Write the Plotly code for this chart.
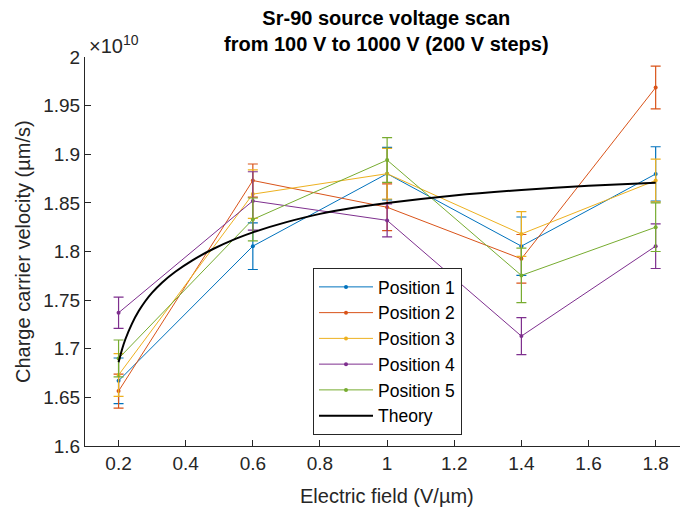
import plotly.graph_objects as go

# Data (velocity in units of 1e10 µm/s)
field = [0.2, 0.6, 1.0, 1.4, 1.8]
names = ["Position 1", "Position 2", "Position 3", "Position 4", "Position 5"]
pos1 = [1.667, 1.8055, 1.880, 1.8055, 1.8797]
pos2 = [1.6565, 1.873, 1.8455, 1.7925, 1.9686]
pos3 = [1.673, 1.859, 1.880, 1.818, 1.873]
pos4 = [1.737, 1.852, 1.832, 1.713, 1.8055]
pos5 = [1.690, 1.833, 1.894, 1.7754, 1.825]
err1 = [0.0235, 0.024, 0.027, 0.030, 0.028]
err2 = [0.0175, 0.017, 0.024, 0.025, 0.022]
err3 = [0.022, 0.025, 0.026, 0.023, 0.022]
err4 = [0.016, 0.030, 0.017, 0.019, 0.023]
err5 = [0.019, 0.022, 0.023, 0.028, 0.025]

theory_x = [0.2, 0.21, 0.22, 0.24, 0.26, 0.28, 0.30, 0.33, 0.37, 0.42, 0.48, 0.55, 0.6,
            0.7, 0.8, 0.9, 1.0, 1.2, 1.4, 1.6, 1.8]
theory_y = [1.686, 1.699, 1.7095, 1.7259, 1.7387, 1.7491, 1.7577, 1.7682, 1.7794, 1.7909,
            1.8023, 1.8132, 1.8197, 1.8302, 1.8387, 1.8449, 1.8499, 1.8577, 1.8633, 1.8675, 1.8706]

colors = ["#0072BD", "#D95319", "#EDB120", "#7E2F8E", "#77AC30"]
series = [pos1, pos2, pos3, pos4, pos5]
errors = [err1, err2, err3, err4, err5]

FONT = "Liberation Sans"
TXT = "#262626"

fig = go.Figure()
for name, ys, es, c in zip(names, series, errors, colors):
    fig.add_trace(go.Scatter(
        x=field, y=ys, name=name, mode="lines+markers",
        line=dict(color=c, width=1),
        marker=dict(color=c, size=4),
        error_y=dict(type="data", array=es, visible=True, color=c, thickness=1.2, width=5),
        cliponaxis=False,
    ))
fig.add_trace(go.Scatter(
    x=theory_x, y=theory_y, name="Theory", mode="lines",
    line=dict(color="black", width=2, shape="spline", smoothing=0.8),
))

L, R, T, B = 85, 0, 57, 64
W, H = 680, 510
pw = W - L - R
ph = H - T - B

fig.update_layout(
    width=W, height=H,
    margin=dict(l=L, r=R, t=T, b=B, autoexpand=False),
    paper_bgcolor="white", plot_bgcolor="white",
    font=dict(family=FONT, color=TXT, size=19),
    showlegend=True,
    legend=dict(
        x=(313 - L) / pw, y=(H - B - 268) / ph, xanchor="left", yanchor="top",
        bgcolor="white", bordercolor="#262626", borderwidth=1,
        font=dict(family=FONT, size=17.5, color="black"),
        tracegroupgap=0, itemwidth=54,
    ),
)

fig.update_xaxes(
    range=[0.1, 1.8725], tickvals=[0.2, 0.4, 0.6, 0.8, 1.0, 1.2, 1.4, 1.6, 1.8],
    ticktext=["0.2", "0.4", "0.6", "0.8", "1", "1.2", "1.4", "1.6", "1.8"],
    ticks="inside", ticklen=6, tickcolor=TXT, tickwidth=1,
    showline=True, linecolor=TXT, linewidth=1, showgrid=False, zeroline=False,
    tickfont=dict(size=19, color=TXT), mirror=False,
)
fig.update_yaxes(
    range=[1.6, 2.0], tickvals=[1.6, 1.65, 1.7, 1.75, 1.8, 1.85, 1.9, 1.95, 2.0],
    ticktext=["1.6", "1.65", "1.7", "1.75", "1.8", "1.85", "1.9", "1.95", "2"],
    ticks="inside", ticklen=6, tickcolor=TXT, tickwidth=1,
    showline=True, linecolor=TXT, linewidth=1, showgrid=False, zeroline=False,
    tickfont=dict(size=19, color=TXT), mirror=False,
)

fig.add_annotation(
    text="<b>Sr-90 source voltage scan<br>from 100 V to 1000 V (200 V steps)</b>",
    xref="paper", yref="paper", x=(386.7 - L) / pw, y=1 + (T - 31) / ph,
    xanchor="center", yanchor="middle", showarrow=False,
    font=dict(family=FONT, size=20, color="black"),
)
fig.add_annotation(
    text="×10<sup>10</sup>", xref="paper", yref="paper", x=(87 - L) / pw, y=1 + (T - 44) / ph,
    xanchor="left", yanchor="middle", showarrow=False,
    font=dict(family=FONT, size=20, color=TXT),
)
fig.add_annotation(
    text="Electric field (V/µm)", xref="paper", yref="paper",
    x=(386.7 - L) / pw, y=-(496 - (H - B)) / ph, xanchor="center", yanchor="middle",
    showarrow=False, font=dict(family=FONT, size=20, color=TXT),
)
fig.add_annotation(
    text="Charge carrier velocity (µm/s)", xref="paper", yref="paper",
    x=-(L - 23) / pw, y=(H - B - 252) / ph, xanchor="center", yanchor="middle",
    textangle=-90, showarrow=False, font=dict(family=FONT, size=20, color=TXT),
)

fig.write_html("out.html")
